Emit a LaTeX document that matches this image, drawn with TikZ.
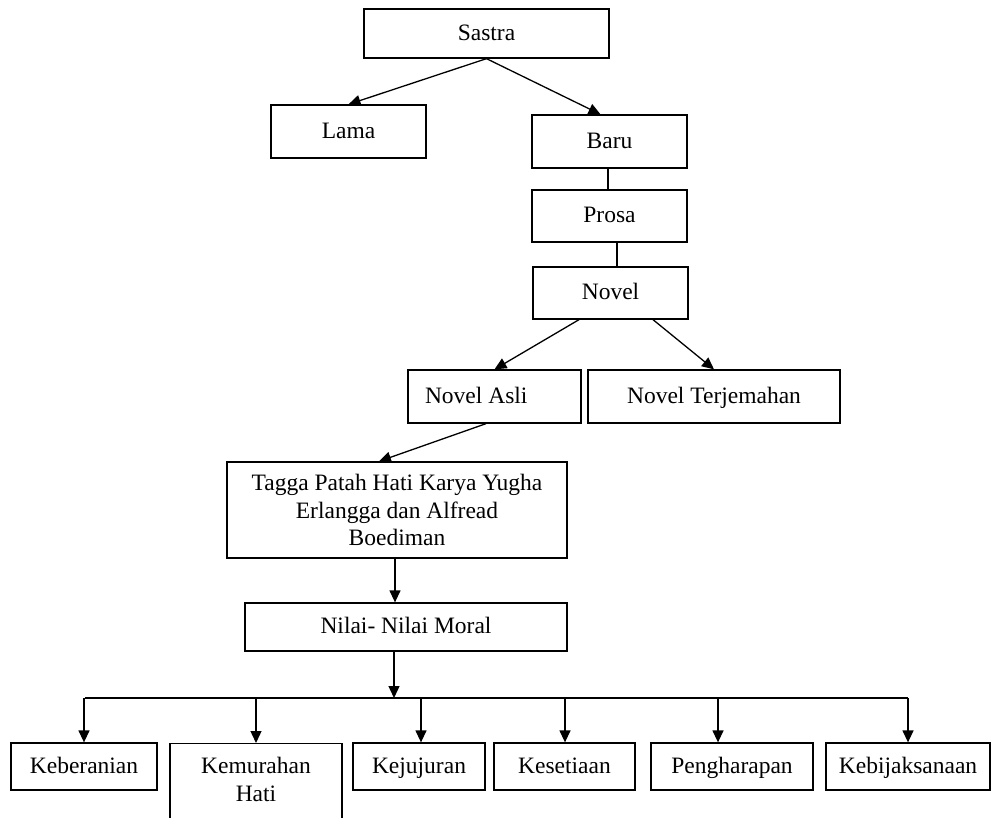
\documentclass[tikz,border=0pt]{standalone}
\usepackage{fontspec}
\setmainfont{Liberation Serif}
\usetikzlibrary{arrows.meta}

\begin{document}
\begin{tikzpicture}[x=1pt,y=1pt]
\tikzstyle{every node}+=[font=\fontsize{23.5}{27.7}\selectfont]
\tikzstyle{box}=[draw=black, line width=1.3pt, rectangle, inner sep=0pt, text height=17pt, text depth=4pt]
\tikzstyle{bigbox}=[draw=black, line width=1.3pt, rectangle, align=center]
\tikzstyle{link}=[black, line width=1.3pt]
\tikzstyle{arr}=[link, -{Triangle[length=12pt,width=11pt]}]
\useasboundingbox (0,0) rectangle (992,-817);
\node [box, minimum width=245, minimum height=49] (sastra) at (486.5,-33.5) {Sastra};
\node [box, minimum width=155, minimum height=53] (lama) at (348.5,-131.5) {Lama};
\node [box, minimum width=155, minimum height=53] (baru) at (609.5,-141.5) {Baru};
\node [box, minimum width=155, minimum height=52] (prosa) at (609.5,-216) {Prosa};
\node [box, minimum width=155, minimum height=52] (novel) at (610.5,-293) {Novel};
\node [box, minimum width=173, minimum height=53, inner xsep=17pt, text width=139pt, align=flush left] (asli) at (494.5,-396.5) {Novel Asli};
\node [box, minimum width=252, minimum height=53] (terjemahan) at (714,-396.5) {Novel Terjemahan};
\node [bigbox, minimum width=340, minimum height=96] (tagga) at (397,-510) {Tagga Patah Hati Karya Yugha\\Erlangga dan Alfread\\Boediman};
\node [box, minimum width=322, minimum height=48] (nilai) at (406,-627) {Nilai- Nilai Moral};
\node [box, minimum width=146, minimum height=47] (berani) at (84,-766.5) {Keberanian};
\node [box, minimum width=172, anchor=north, inner ysep=13pt, text width=150pt, align=center, text depth=90pt] (murah) at (256,-743) {Kemurahan\\Hati};
\node [box, minimum width=132, minimum height=47] (jujur) at (419,-766.5) {Kejujuran};
\node [box, minimum width=141, minimum height=47] (setia) at (564.5,-766.5) {Kesetiaan};
\node [box, minimum width=162, minimum height=47] (harap) at (732,-766.5) {Pengharapan};
\node [box, minimum width=164, minimum height=47] (bijak) at (908,-766.5) {Kebijaksanaan};
\coordinate (bus) at (394,-698);
\coordinate (busL) at (85,-698);
\coordinate (busR) at (908,-698);
\draw [arr] (sastra.south) -- (lama.north);
\draw [arr] (sastra.south) -- ([xshift=-9pt]baru.north);
\draw [link] ([xshift=-1.5pt]baru.south) -- ([xshift=-1.5pt]prosa.north);
\draw [link] ([xshift=7.5pt]prosa.south) -- ([xshift=7.5pt]prosa.south |- novel.north);
\draw [arr] ([xshift=-31.5pt]novel.south) -- (asli.north);
\draw [arr] ([xshift=42.5pt]novel.south) -- (terjemahan.north);
\draw [arr] ([xshift=-8.5pt]asli.south) -- ([xshift=-18pt]tagga.north);
\draw [arr] ([xshift=-2pt]tagga.south) -- ([xshift=-2pt]tagga.south |- nilai.north);
\draw [arr] (nilai.south -| bus) -- (bus);
\draw [link] (busL) -- (busR);
\draw [arr] (berani.north |- bus) -- (berani.north);
\draw [arr] (murah.north |- bus) -- (murah.north);
\draw [arr] ([xshift=2pt]jujur.north |- bus) -- ([xshift=2pt]jujur.north);
\draw [arr] ([xshift=0.5pt]setia.north |- bus) -- ([xshift=0.5pt]setia.north);
\draw [arr] ([xshift=-14pt]harap.north |- bus) -- ([xshift=-14pt]harap.north);
\draw [arr] (bijak.north |- bus) -- (bijak.north);
\end{tikzpicture}
\end{document}
